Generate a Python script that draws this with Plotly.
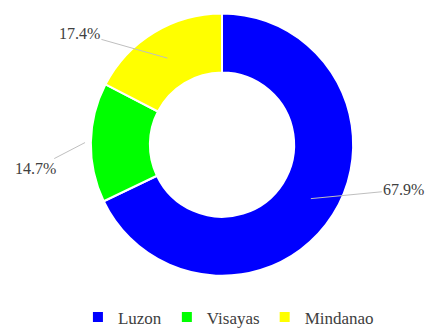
import math
import plotly.graph_objects as go

regions = ["Luzon", "Visayas", "Mindanao"]
shares = [67.9, 14.7, 17.4]
colors = ["#0000FF", "#00FF00", "#FFFF00"]
label_text = ["67.9%", "14.7%", "17.4%"]

W, H = 431, 336
cx, cy, R = 222, 150, 136
hole = 0.55
SERIF = "Times New Roman"

fig = go.Figure(go.Pie(
    labels=regions, values=shares, sort=False, direction="clockwise", rotation=0,
    hole=hole, marker=dict(colors=colors, line=dict(color="white", width=2)),
    textinfo="none", hoverinfo="label+percent",
    domain=dict(x=[(cx - R) / W, (cx + R) / W], y=[(H - cy - R) / H, (H - cy + R) / H]),
))

# leader-line anchors derived from slice mid-angles
offsets = [(93, -9), (-50, 26), (-88, -25)]
anchor_r = [105, 137, 105]
total = sum(shares)
start = 0.0
for i, v in enumerate(shares):
    span = v / total * 360
    mid = math.radians(start + span / 2)
    start += span
    px = cx + anchor_r[i] * math.sin(mid)
    py = cy - anchor_r[i] * math.cos(mid)
    fig.add_annotation(
        x=px / W, y=1 - py / H, xref="paper", yref="paper",
        text=label_text[i], showarrow=True, arrowhead=0, arrowwidth=1,
        arrowcolor="#BFBFBF", ax=offsets[i][0], ay=offsets[i][1],
        font=dict(family=SERIF, size=16, color="#404040"),
    )

fig.update_layout(
    width=W, height=H, margin=dict(l=0, r=0, t=0, b=0),
    paper_bgcolor="white", plot_bgcolor="white",
    showlegend=True,
    legend=dict(orientation="h", x=0.53, xanchor="center", y=0.02, yanchor="middle",
                font=dict(family=SERIF, size=17, color="#404040"),
                itemclick=False, itemwidth=30, tracegroupgap=0),
)

fig.write_html("out.html")
